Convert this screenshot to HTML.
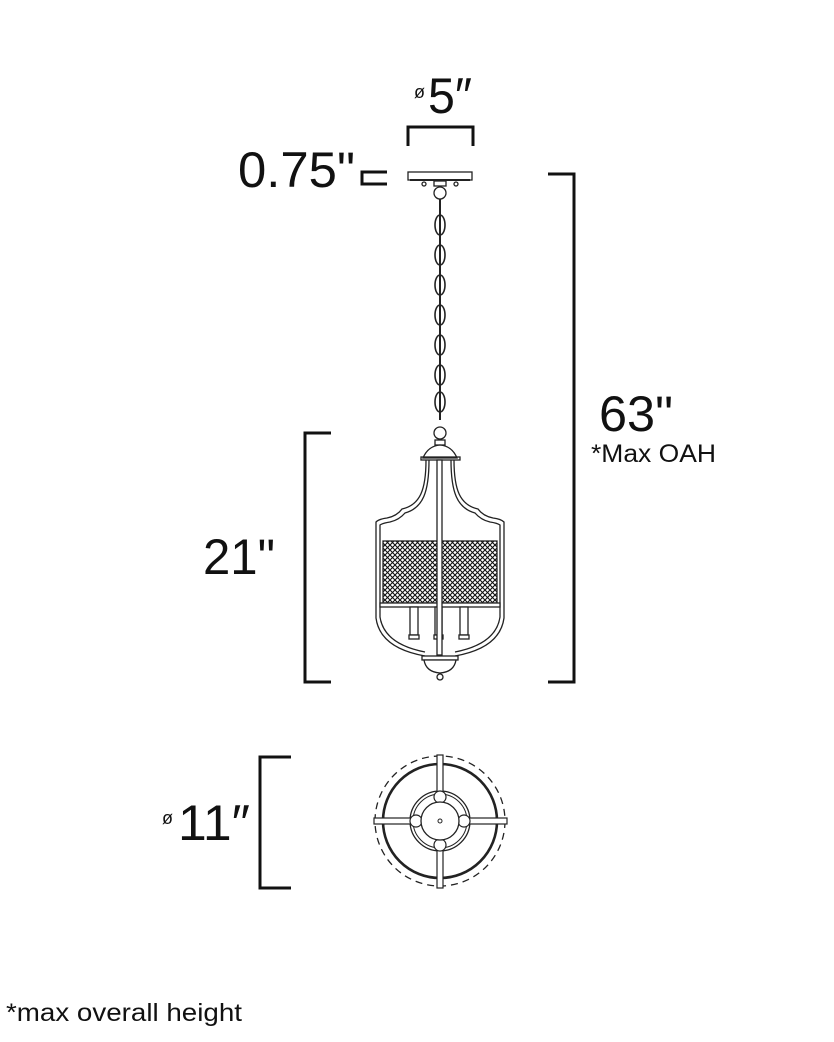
<!DOCTYPE html>
<html><head><meta charset="utf-8"><style>
html,body{margin:0;padding:0;background:#fff;}
svg{display:block;}
text{font-family:"Liberation Sans",sans-serif;fill:#111;}
</style></head><body>
<svg width="834" height="1042" viewBox="0 0 834 1042" xmlns="http://www.w3.org/2000/svg">
<defs>
<pattern id="mesh" width="5" height="5" patternUnits="userSpaceOnUse">
<path d="M0 0L5 5M5 0L0 5" stroke="#111" stroke-width="1.1"/>
</pattern>
</defs>
<g fill="none" stroke="#111" stroke-width="3">
<path d="M408 146V127H473V146"/>
<path d="M387 172H362V184H387"/>
<path d="M548 174H574V682H548"/>
<path d="M331 433H305V682H331"/>
<path d="M291 757H260V888H291"/>
</g>
<g fill="none" stroke="#222" stroke-width="1.3">
<rect x="408" y="172" width="64" height="8" fill="#fff"/>
<line x1="410" y1="180" x2="470" y2="180" stroke-width="2"/>
<circle cx="424" cy="184" r="2"/><circle cx="456" cy="184" r="2"/>
<rect x="434" y="181" width="12" height="5"/>
<circle cx="440" cy="193" r="6"/>
<line x1="440" y1="199" x2="440" y2="420" stroke-width="2"/>
<g stroke-width="1.6">
<ellipse cx="440" cy="225" rx="5" ry="10"/>
<ellipse cx="440" cy="255" rx="5" ry="10"/>
<ellipse cx="440" cy="285" rx="5" ry="10"/>
<ellipse cx="440" cy="315" rx="5" ry="10"/>
<ellipse cx="440" cy="345" rx="5" ry="10"/>
<ellipse cx="440" cy="375" rx="5" ry="10"/>
<ellipse cx="440" cy="402" rx="5" ry="10"/>
</g>
<circle cx="440" cy="433" r="6"/>
<rect x="435" y="440" width="10" height="5"/>
<path d="M423 458Q428 446 440 445Q452 446 457 458Z" fill="#fff"/>
<rect x="421" y="457" width="39" height="3"/>
<path d="M426 460C426 490 420 505 402 509Q397 516 387 518Q379 519 376 522V618Q380 648 425 656"/>
<path d="M429 460C429 492 423 508 405 513Q399 520 390 522Q383 523 380 525V617Q384 644 425 652"/>
<path d="M454 460C454 490 460 505 478 509Q483 516 493 518Q501 519 504 522V618Q500 648 455 656"/>
<path d="M451 460C451 492 457 508 475 513Q481 520 490 522Q497 523 500 525V617Q496 644 455 652"/>
<rect x="383" y="541" width="114" height="62" fill="url(#mesh)"/>
<rect x="380" y="603" width="120" height="4" fill="#fff"/>
<rect x="410" y="607" width="8" height="28" fill="#fff"/>
<rect x="409" y="635" width="10" height="4" fill="#fff"/>
<rect x="460" y="607" width="8" height="28" fill="#fff"/>
<rect x="459" y="635" width="10" height="4" fill="#fff"/>
<rect x="435" y="607" width="7" height="28" fill="#fff"/>
<rect x="434" y="635" width="9" height="4" fill="#fff"/>
<rect x="437" y="460" width="5" height="195" fill="#fff"/>
<rect x="422" y="656" width="36" height="4" fill="#fff"/>
<path d="M424 660Q426 672 440 673Q454 672 456 660Z" fill="#fff"/>
<circle cx="440" cy="677" r="3" fill="#fff"/>
</g>
<g fill="none" stroke="#222">
<circle cx="440" cy="821" r="65" stroke-width="1.3" stroke-dasharray="7 5"/>
<circle cx="440" cy="821" r="57" stroke-width="2.6"/>
<circle cx="440" cy="821" r="30" stroke-width="1.3"/>
<circle cx="440" cy="821" r="27" stroke-width="1"/>
<rect x="437" y="755" width="6" height="133" fill="#fff" stroke-width="1.2"/>
<rect x="374" y="818" width="133" height="6" fill="#fff" stroke-width="1.2"/>
<circle cx="440" cy="797" r="6" fill="#fff" stroke-width="1.2"/>
<circle cx="440" cy="845" r="6" fill="#fff" stroke-width="1.2"/>
<circle cx="416" cy="821" r="6" fill="#fff" stroke-width="1.2"/>
<circle cx="464" cy="821" r="6" fill="#fff" stroke-width="1.2"/>
<circle cx="440" cy="821" r="19" fill="#fff" stroke-width="1.3"/>
<circle cx="440" cy="821" r="2" stroke-width="1"/>
</g>
<text x="238" y="187" font-size="50" textLength="117" lengthAdjust="spacingAndGlyphs">0.75"</text>
<text x="414" y="98" font-size="18">ø</text>
<text x="428" y="113" font-size="50" textLength="44" lengthAdjust="spacingAndGlyphs">5″</text>
<text x="599" y="431" font-size="50" textLength="74" lengthAdjust="spacingAndGlyphs">63"</text>
<text x="591" y="462" font-size="25" textLength="125" lengthAdjust="spacingAndGlyphs">*Max OAH</text>
<text x="203" y="574" font-size="50" textLength="72" lengthAdjust="spacingAndGlyphs">21"</text>
<text x="162" y="824" font-size="18">ø</text>
<text x="178" y="840" font-size="50" textLength="72" lengthAdjust="spacingAndGlyphs">11″</text>
<text x="6" y="1021" font-size="25" textLength="236" lengthAdjust="spacingAndGlyphs">*max overall height</text>
</svg>
</body></html>
